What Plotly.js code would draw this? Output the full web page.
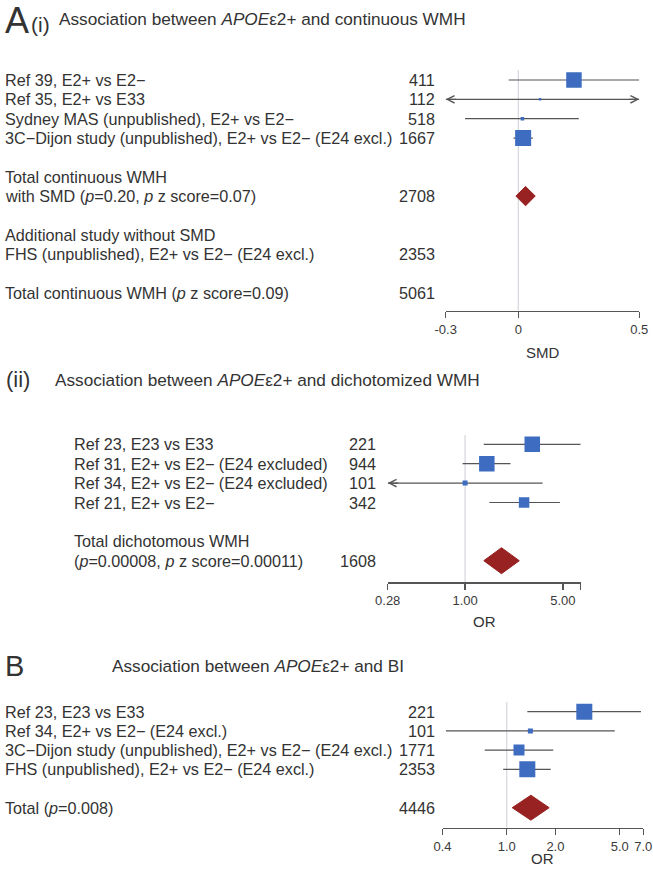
<!DOCTYPE html>
<html>
<head>
<meta charset="utf-8">
<script src="https://cdn.plot.ly/plotly-3.0.1.min.js"></script>
<style>
  body { margin: 0; background: #fff; }
  #chart { width: 653px; height: 874px; }
</style>
</head>
<body>
<div id="chart"></div>
<script>
// ---- A(i): APOE e2+ and continuous WMH (SMD) ----
const smdStudies = ['Ref 39, E2+ vs E2\u2212', 'Ref 35, E2+ vs E33',
  'Sydney MAS (unpublished), E2+ vs E2\u2212',
  '3C\u2212Dijon study (unpublished), E2+ vs E2\u2212 (E24 excl.)'];
const smdN = [411, 112, 518, 1667];
const smdEst = [0.23, 0.09, 0.017, 0.02];
const smdLow = [-0.04, -0.45, -0.22, -0.02];
const smdHigh = [0.50, 0.65, 0.25, 0.06];
const smdWeight = [15.5, 2.5, 3.5, 16];
const smdTotal = [0.03, -0.01, 0.07];   // estimate, low, high
const smdTicks = [-0.3, 0, 0.5];
const smdTickText = ['-0.3', '0', '0.5'];
const smdExtraRows = [
  [5, 'Total continuous WMH', ''],
  [6, 'with SMD (<i>p</i>=0.20, <i>p</i> z score=0.07)', '2708'],
  [8, 'Additional study without SMD', ''],
  [9, 'FHS (unpublished), E2+ vs E2\u2212 (E24 excl.)', '2353'],
  [11, 'Total continuous WMH (<i>p</i> z score=0.09)', '5061']
];

// ---- A(ii): APOE e2+ and dichotomized WMH (OR) ----
const dichStudies = ['Ref 23, E23 vs E33', 'Ref 31, E2+ vs E2\u2212 (E24 excluded)',
  'Ref 34, E2+ vs E2\u2212 (E24 excluded)', 'Ref 21, E2+ vs E2\u2212'];
const dichN = [221, 944, 101, 342];
const dichEst = [3.02, 1.43, 1.0, 2.64];
const dichLow = [1.36, 0.96, 0.2, 1.49];
const dichHigh = [6.7, 2.11, 3.58, 4.76];
const dichWeight = [15.5, 15.5, 5, 10.5];
const dichTotal = [1.82, 1.36, 2.44];
const dichTicks = [0.28, 1, 5, 6.7];
const dichTickText = ['0.28', '1.00', '5.00', ''];
const dichExtraRows = [
  [5, 'Total dichotomous WMH', ''],
  [6, '(<i>p</i>=0.00008, <i>p</i> z score=0.00011)', '1608']
];

// ---- B: APOE e2+ and BI (OR) ----
const biStudies = ['Ref 23, E23 vs E33', 'Ref 34, E2+ vs E2\u2212 (E24 excl.)',
  '3C\u2212Dijon study (unpublished), E2+ vs E2\u2212 (E24 excl.)',
  'FHS (unpublished), E2+ vs E2\u2212 (E24 excl.)'];
const biN = [221, 101, 1771, 2353];
const biEst = [3.02, 1.40, 1.19, 1.34];
const biLow = [1.34, 0.42, 0.73, 0.95];
const biHigh = [6.77, 4.66, 1.94, 1.87];
const biWeight = [16, 5, 11, 16];
const biTotal = [1.41, 1.08, 1.83];
const biTicks = [0.4, 1, 2, 5, 7];
const biTickText = ['0.4', '1.0', '2.0', '5.0', '7.0'];
const biExtraRows = [
  [5, 'Total (<i>p</i>=0.008)', '4446']
];

const W = 653, H = 874;
const FONT = 'Liberation Sans, Arial, Helvetica, sans-serif';
const TXT = '#333333';
const BLUE = '#3e6cc0';
const RED = '#982222';
const px = v => v / W;
const py = v => 1 - v / H;

const traces = [];
const annotations = [];
const layout = {
  width: W, height: H,
  margin: { l: 0, r: 0, t: 0, b: 0 },
  paper_bgcolor: '#fff', plot_bgcolor: 'rgba(0,0,0,0)',
  showlegend: false,
  font: { family: FONT, color: TXT }
};

function text(x, y, s, size, anchor, yref) {
  annotations.push({
    xref: 'paper', x: px(x), yref: yref || 'paper', y: yref ? y : py(y),
    text: s, showarrow: false, xanchor: anchor || 'left', yanchor: 'middle',
    font: { family: FONT, size: size, color: TXT }
  });
}

function panel(p) {
  const ax = p.xa === 'x' ? 'xaxis' : 'xaxis' + p.xa.slice(1);
  const ayName = p.ya === 'y' ? 'yaxis' : 'yaxis' + p.ya.slice(1);
  const yBottom = (p.axisY - p.row0) / p.step;
  const yTop = (p.topY - p.row0) / p.step;
  const xmin = p.range[0], xmax = p.range[1];
  const toAx = v => p.log ? Math.log10(v) : v;

  layout[ax] = {
    domain: [px(p.x0), px(p.x1)], anchor: p.ya,
    type: p.log ? 'log' : 'linear',
    range: [toAx(xmin), toAx(xmax)],
    tickvals: p.ticks, ticktext: p.tickText,
    ticks: 'outside', ticklen: 6, tickwidth: 1.2, tickcolor: '#555',
    showline: true, linecolor: '#555', linewidth: 1.2,
    showgrid: false, zeroline: false,
    tickfont: { family: FONT, size: 13, color: '#3a3a3a' }
  };
  layout[ayName] = {
    domain: [py(p.axisY), py(p.topY)], anchor: p.xa,
    range: [yBottom, yTop], visible: false, showgrid: false, zeroline: false
  };

  // reference line
  traces.push({
    x: [p.ref, p.ref], y: [yTop, yBottom], xaxis: p.xa, yaxis: p.ya,
    mode: 'lines', line: { color: '#d3d6dc', width: 1.2 }, hoverinfo: 'skip'
  });

  p.est.forEach((e, i) => {
    const lo = Math.max(p.low[i], xmin), hi = Math.min(p.high[i], xmax);
    traces.push({
      x: [lo, hi], y: [i, i], xaxis: p.xa, yaxis: p.ya,
      mode: 'lines', line: { color: '#555', width: 1.2 }, hoverinfo: 'skip'
    });
    if (p.low[i] < xmin) {
      annotations.push({ xref: p.xa, yref: p.ya, x: toAx(xmin), y: i, ax: 12, ay: 0,
        showarrow: true, arrowhead: 5, arrowsize: 1.3, arrowwidth: 1.1, arrowcolor: '#555', text: '' });
    }
    if (p.high[i] > xmax) {
      annotations.push({ xref: p.xa, yref: p.ya, x: toAx(xmax), y: i, ax: -12, ay: 0,
        showarrow: true, arrowhead: 5, arrowsize: 1.3, arrowwidth: 1.1, arrowcolor: '#555', text: '' });
    }
    text(p.labelX, i, p.studies[i], 16.2, 'left', p.ya);
    text(p.numX, i, String(p.n[i]), 16.2, 'right', p.ya);
  });

  traces.push({
    x: p.est, y: p.est.map((_, i) => i), xaxis: p.xa, yaxis: p.ya,
    mode: 'markers', opacity: 1,
    marker: { symbol: 'square', size: p.weight, color: BLUE, opacity: 1, line: { width: 0 } },
    hoverinfo: 'skip'
  });

  const t = p.total, r = p.totalRow, h = p.diamondH;
  traces.push({
    x: [t[1], t[0], t[2], t[0], t[1]], y: [r, r - h, r, r + h, r],
    xaxis: p.xa, yaxis: p.ya, mode: 'lines', fill: 'toself',
    fillcolor: RED, line: { color: RED, width: 1 }, hoverinfo: 'skip'
  });

  p.extra.forEach(([row, s, n]) => {
    text(p.labelX, row, s, 16.2, 'left', p.ya);
    if (n) text(p.numX, row, n, 16.2, 'right', p.ya);
  });

  // axis title
  text((p.x0 + p.x1) / 2, p.axisTitleY, p.axisTitle, 15, 'center');
}

panel({
  xa: 'x', ya: 'y', x0: 445.7, x1: 639.3, range: [-0.3, 0.5], log: false,
  ticks: smdTicks, tickText: smdTickText, ref: 0,
  row0: 80, step: 19.35, topY: 70, axisY: 310.7,
  studies: smdStudies, n: smdN, est: smdEst, low: smdLow, high: smdHigh, weight: smdWeight,
  total: smdTotal, totalRow: 6, diamondH: 0.5, extra: smdExtraRows,
  labelX: 3, numX: 437, axisTitle: 'SMD', axisTitleY: 352
});

panel({
  xa: 'x2', ya: 'y2', x0: 387.7, x1: 580.7, range: [0.28, 6.7], log: true,
  ticks: dichTicks, tickText: dichTickText, ref: 1,
  row0: 444.3, step: 19.4, topY: 435, axisY: 582.3,
  studies: dichStudies, n: dichN, est: dichEst, low: dichLow, high: dichHigh, weight: dichWeight,
  total: dichTotal, totalRow: 6, diamondH: 0.67, extra: dichExtraRows,
  labelX: 72, numX: 378, axisTitle: 'OR', axisTitleY: 621
});

panel({
  xa: 'x3', ya: 'y3', x0: 442.5, x1: 643.3, range: [0.4, 7], log: true,
  ticks: biTicks, tickText: biTickText, ref: 1,
  row0: 711.7, step: 19.2, topY: 701.7, axisY: 827.7,
  studies: biStudies, n: biN, est: biEst, low: biLow, high: biHigh, weight: biWeight,
  total: biTotal, totalRow: 5, diamondH: 0.65, extra: biExtraRows,
  labelX: 3, numX: 437, axisTitle: 'OR', axisTitleY: 858
});

// panel titles
text(3, 20, 'A', 36, 'left');
text(29, 25, '(i)', 21, 'left');
text(57, 19, 'Association between <i>APOE</i>\u03b52+ and continuous WMH', 17.2, 'left');
text(4, 380, '(ii)', 22, 'left');
text(53, 380, 'Association between <i>APOE</i>\u03b52+ and dichotomized WMH', 17.2, 'left');
text(3, 666, 'B', 29, 'left');
text(110, 666, 'Association between <i>APOE</i>\u03b52+ and BI', 17.2, 'left');

layout.annotations = annotations;

Plotly.newPlot('chart', traces, layout, { displayModeBar: false, staticPlot: true });
</script>
</body>
</html>
